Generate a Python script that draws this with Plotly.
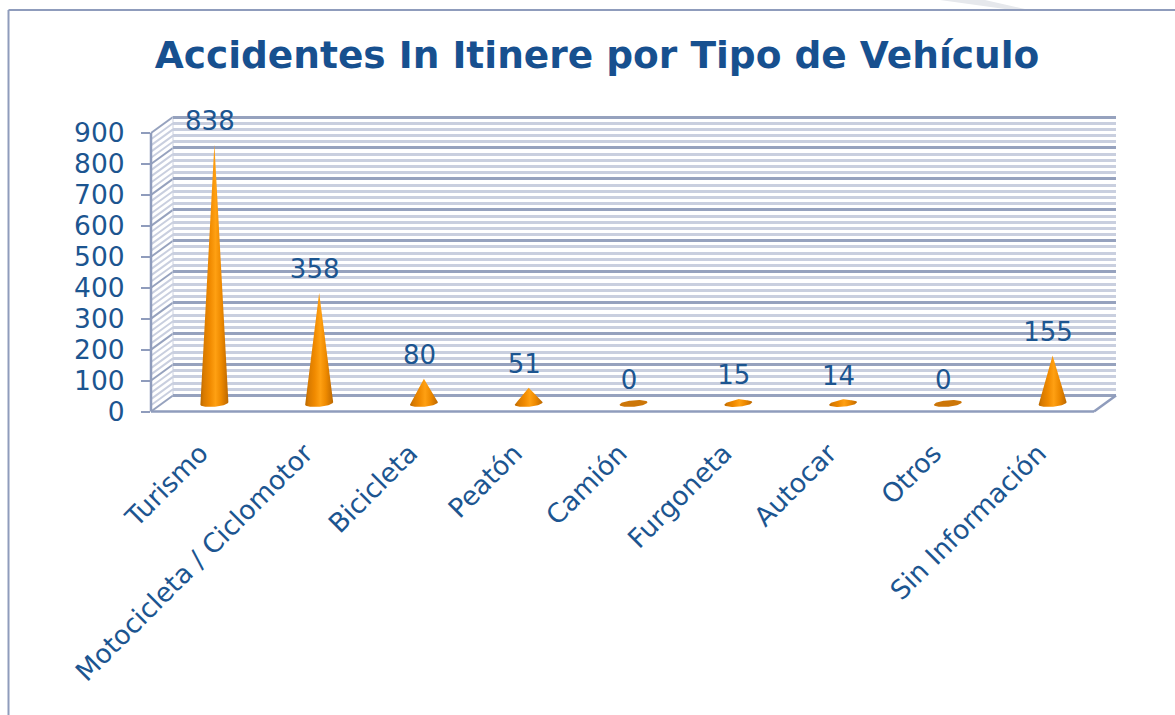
import numpy as np
import plotly.graph_objects as go

categories = ["Turismo", "Motocicleta / Ciclomotor", "Bicicleta", "Peatón", "Camión",
              "Furgoneta", "Autocar", "Otros", "Sin Información"]
values = [838, 358, 80, 51, 0, 15, 14, 0, 155]
y_ticks = [0, 100, 200, 300, 400, 500, 600, 700, 800, 900]
title = "Accidentes In Itinere por Tipo de Vehículo"

W, H = 1175, 715
FL, FR, FB, FT = 151, 1094, 411.5, 133     # front plane in pixels
DX, DY = 22, 16                            # depth offset of the back wall in pixels
PXU = (FB - FT) / 900
STEP = (FR - FL) / 9
GRID_PAD = 8                               # value units kept beyond 0 and 900 so end gridlines show

FONT = "Verdana, DejaVu Sans"
TXT = "#1c5590"
MAJOR = "#96a2be"
MINOR = "#c9cfdf"
AXIS = "#8f9cbc"


def xdom(a, b):
    return [a / W, b / W]


def ydom(bottom, top):
    return [1 - bottom / H, 1 - top / H]


fig = go.Figure()

# cones, on a plane half way between front and back
half_w = 14 / STEP
half_h = 3.2 / PXU
tilt = 1.2 / PXU
grad = [[0, "#b86800"], [0.12, "#d87a00"], [0.34, "#f08a00"], [0.54, "#ffa012"],
        [0.74, "#ee8a00"], [0.92, "#cc7200"], [1, "#b86800"]]
for i, v in enumerate(values):
    t = np.linspace(-1, 1, 41)
    ell = half_h * np.sqrt(1 - t ** 2)
    upper = np.maximum(v * (1 - np.abs(t)), ell) + tilt * t
    lower = -ell + tilt * t
    xs = np.concatenate([i + half_w * t, i + half_w * t[::-1]])
    ys = np.concatenate([upper, lower[::-1]])
    kw = dict(fillcolor="#cc7608") if v == 0 else dict(
        fillgradient=dict(type="horizontal", colorscale=grad))
    fig.add_trace(go.Scatter(x=xs, y=ys, mode="lines", fill="toself", xaxis="x3", yaxis="y3",
                             line=dict(width=0), hoverinfo="skip", showlegend=False, **kw))

fig.add_trace(go.Scatter(x=list(range(len(values))), y=values, mode="text",
                         text=[str(v) for v in values], textposition="top center",
                         textfont=dict(family=FONT, size=26, color=TXT),
                         cliponaxis=False, xaxis="x4", yaxis="y4", showlegend=False))


# frame lines: outer border, floor, left wall hatching
def px_line(x0, y0, x1, y1, color, width, layer="above"):
    return dict(type="line", xref="paper", yref="paper", x0=x0 / W, y0=1 - y0 / H, x1=x1 / W, y1=1 - y1 / H,
                line=dict(color=color, width=width), layer=layer)


shapes = []
for v in range(0, 901, 20):
    major = v % 100 == 0
    y = FB - v * PXU
    shapes.append(px_line(FL, y, FL + DX, y - DY, MAJOR if major else MINOR, 2, "below"))
shapes.append(px_line(FL + DX, FB - DY, FL + DX, FT - DY, MINOR, 1, "below"))
shapes.append(px_line(FL, FB, FL, FT, AXIS, 2.5))
shapes.append(px_line(FL, FB, FR, FB, AXIS, 2.5))
shapes.append(px_line(FR, FB, FR + DX, FB - DY, AXIS, 2.5))
shapes.append(px_line(8.5, 10, W, 10, AXIS, 2))
shapes.append(px_line(8.5, 10, 8.5, H, AXIS, 2))
shapes.append(dict(type="path", xref="paper", yref="paper", line=dict(width=0), fillcolor="#e6e8ec",
                   path=f"M {940/W} 1 L {985/W} 1 L {1025/W} {1-9/H} L {1005/W} {1-9/H} Z"))

fig.update_layout(
    template="none",
    width=W, height=H, margin=dict(l=0, r=0, t=0, b=0, pad=0),
    paper_bgcolor="white", plot_bgcolor="rgba(0,0,0,0)", showlegend=False,
    font=dict(family=FONT, color=TXT),
    title=dict(text=title, x=597 / W, y=1 - 55 / H, xanchor="center", yanchor="middle",
               font=dict(family=FONT, size=37.5, color="#17508f", weight=700)),
    shapes=shapes,
    # back wall, with its gridlines
    xaxis=dict(domain=xdom(FL + DX, FR + DX), range=[0, 1], visible=False, automargin=False),
    yaxis=dict(domain=ydom(FB - DY + GRID_PAD * PXU, FT - DY - GRID_PAD * PXU),
               range=[-GRID_PAD, 900 + GRID_PAD], tick0=0, dtick=100, showgrid=True, automargin=False,
               gridcolor=MAJOR, gridwidth=2.5, zeroline=False, showticklabels=False, ticks="",
               minor=dict(tick0=0, dtick=20, showgrid=True, gridcolor=MINOR, gridwidth=2.5)),
    # front plane, with the labelled axes
    xaxis2=dict(domain=xdom(FL, FR), range=[-0.5, 8.5], anchor="y2", tickmode="array", automargin=False,
                tickvals=[i - 0.03 for i in range(len(categories))], ticktext=categories, tickangle=-45,
                showgrid=False, zeroline=False, showline=False, ticks="",
                tickfont=dict(family=FONT, size=26.5, color=TXT), ticklabelstandoff=20),
    yaxis2=dict(domain=ydom(FB, FT), range=[0, 900], anchor="x2", tickmode="array", tickvals=y_ticks,
                showgrid=False, zeroline=False, showline=False, ticks="outside", ticklen=9, automargin=False,
                tickwidth=2, tickcolor=AXIS, tickfont=dict(family=FONT, size=26.5, color=TXT),
                ticklabelstandoff=11),
    # cone plane
    xaxis3=dict(domain=xdom(FL + DX / 2, FR + DX / 2), range=[-0.5, 8.5], visible=False, anchor="y3"),
    yaxis3=dict(domain=ydom(FB - DY / 2 + 40 * PXU, FB - DY / 2 - 1000 * PXU), range=[-40, 1000],
                visible=False, anchor="x3"),
    # value label plane
    xaxis4=dict(domain=xdom(FL + DX / 2 - 4.5, FR + DX / 2 - 4.5), range=[-0.5, 8.5], visible=False, anchor="y4"),
    yaxis4=dict(domain=ydom(FB - DY / 2 - 8 + 40 * PXU, FB - DY / 2 - 8 - 1000 * PXU), range=[-40, 1000],
                visible=False, anchor="x4"),
)
# invisible traces so the labelled axes are drawn
fig.add_trace(go.Scatter(x=[0], y=[0], mode="markers", marker=dict(opacity=0), xaxis="x2", yaxis="y2",
                         hoverinfo="skip", showlegend=False))
fig.add_trace(go.Scatter(x=[0], y=[0], mode="markers", marker=dict(opacity=0), xaxis="x", yaxis="y",
                         hoverinfo="skip", showlegend=False))

fig.write_html("out.html", config=dict(displayModeBar=False),
               post_script="document.body.style.margin='0';document.body.style.overflow='hidden';")
